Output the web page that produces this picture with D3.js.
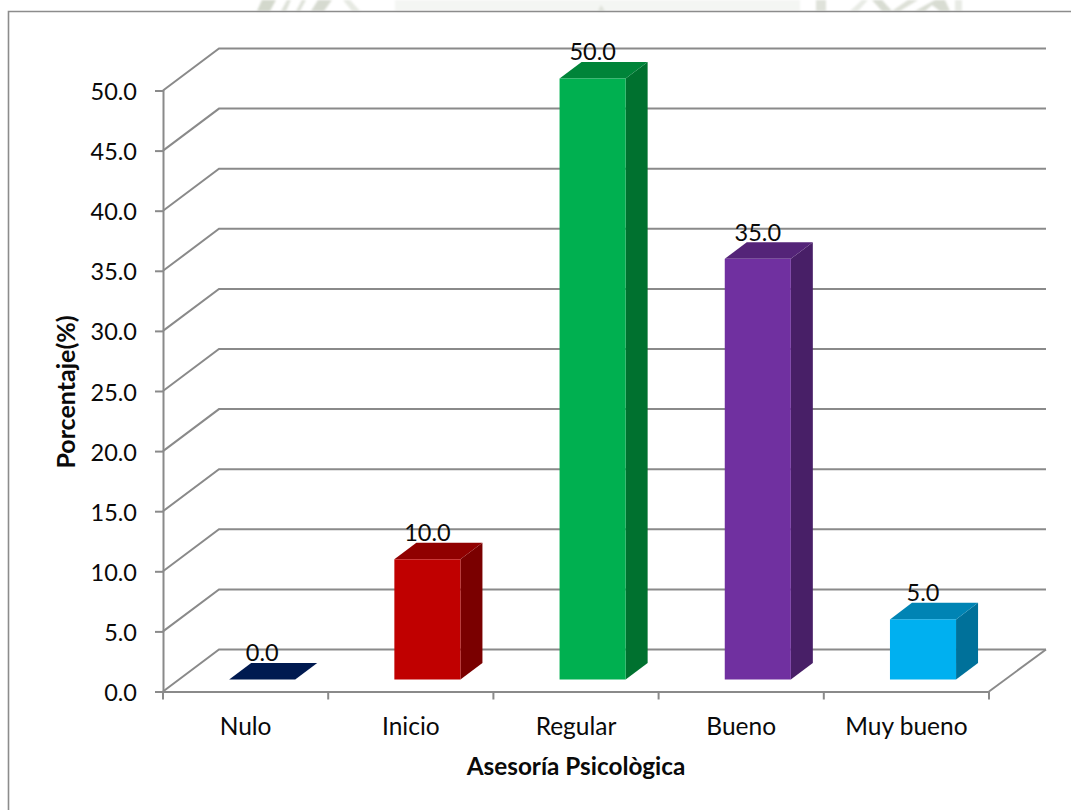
<!DOCTYPE html>
<html><head><meta charset="utf-8">
<script src="https://cdnjs.cloudflare.com/ajax/libs/d3/7.8.5/d3.min.js"></script>
<style>html,body{margin:0;padding:0;background:#fff}svg{display:block}text{font-family:Lato,"Open Sans",sans-serif;fill:#0a0a0a}</style>
</head><body><svg id="c" width="1071" height="810"></svg>
<script>
const categories = ["Nulo","Inicio","Regular","Bueno","Muy bueno"];
const values = [0,10,50,35,5];
const yTicks = [0,5,10,15,20,25,30,35,40,45,50];
const frontColors = ["#002060","#C00000","#00B050","#7030A0","#00B0F0"];
const topColors = ["#001A50","#900000","#008439","#542478","#0084B4"];
const sideColors = ["#001438","#7A0000","#00712F","#481F67","#00719A"];
const xTitle = "Asesoría Psicològica";
const yTitle = "Porcentaje(%)";

const svg = d3.select("#c");
const grid = "#8a8a8a";
const W = {x0:163, x1:989, y0:691.5, y1:90.5, dx:56, dy:-42};
const x = d3.scaleBand().domain(categories).range([W.x0,W.x1]);
const y = d3.scaleLinear().domain([0,50]).range([W.y0,W.y1]);
const barW = x.step()*0.4, barInset = x.step()*0.3+16.6, barOY = -12, bdx = 22, bdy = -16.6;

// faint watermark remains above the chart frame
const wm = svg.append("g").style("filter","blur(1px)");
wm.append("rect").attr("x",395).attr("y",0).attr("width",405).attr("height",11).attr("fill","#f4f6f3");
[["M257 11L262 0H276L270 11Z","#d3d8cc"],["M281 11L287 0H291L286 11Z","#dde1d8"],["M296 11L302 0H306L300 11Z","#dde1d8"],
 ["M311 11L318 0H332L324 11Z","#d6dad0"],["M343 0H350L360 11H352Z","#e6e9e2"],
 ["M598 11L601 5L605 11Z","#dfe2da"],["M816 0H826V11H816Z","#dfe2da"],["M850 11L862 0H868L858 11Z","#e8ebe5"],
 ["M872 0H882L892 11H882Z","#d8dcd2"],["M892 11L908 0H918L900 11Z","#dde0d7"],["M915 11L935 0H945L950 11H940L932 5L925 11Z","#d8dcd2"],["M955 0H962V11H955Z","#e8ebe5"]]
 .forEach(d=>wm.append("path").attr("d",d[0]).attr("fill",d[1]));

// frame
svg.append("path").attr("d","M8.5 810V11.5H1071").attr("fill","none").attr("stroke","#8c8c8c").attr("stroke-width",1.6);

// walls and floor
const g = svg.append("g").attr("fill","none").attr("stroke",grid).attr("stroke-width",2);
g.selectAll(".h").data(yTicks).join("path")
 .attr("d",t=>`M${W.x0} ${y(t)}L${W.x0+W.dx} ${y(t)+W.dy}H${W.x1+W.dx+1}`);
g.append("path").attr("d",`M${W.x1} ${y(0)}L${W.x1+W.dx+1} ${y(0)+W.dy}`);

// axes
const ay = svg.append("g").attr("transform",`translate(${W.x0},0)`)
 .call(d3.axisLeft(y).tickValues(yTicks).tickFormat(d3.format(".1f")).tickSize(8).tickPadding(18));
const ax = svg.append("g").attr("transform",`translate(0,${W.y0})`)
 .call(d3.axisBottom(x).tickSize(0).tickPadding(28));
[ay,ax].forEach(a=>{
 a.selectAll("path.domain").attr("stroke",grid).attr("stroke-width",2);
 a.selectAll("line").attr("stroke",grid).attr("stroke-width",2);
 a.selectAll("text").attr("font-size",23.5).style("font-family","Lato,sans-serif").attr("fill","#0a0a0a");
});
ay.selectAll("text").attr("dy",null).attr("y",9);
ax.selectAll(".tick text").attr("dy",null).attr("y",43).attr("font-size",24.5);
ax.selectAll(".bound").data(d3.range(categories.length+1)).join("line")
 .attr("x1",i=>W.x0+i*x.step()).attr("x2",i=>W.x0+i*x.step()).attr("y1",0).attr("y2",8)
 .attr("stroke",grid).attr("stroke-width",2);

// bars
const rows = categories.map((c,i)=>({c,i,v:values[i]}));
svg.append("g").selectAll("g").data(rows).join("g").each(function(d){
  const s=d3.select(this), l=x(d.c)+barInset, r=l+barW, t=y(d.v)+barOY, bt=y(0)+barOY;
  s.append("path").attr("fill",sideColors[d.i]).attr("d",`M${r} ${t}L${r+bdx} ${t+bdy}V${bt+bdy}L${r} ${bt}Z`);
  s.append("path").attr("fill",topColors[d.i]).attr("d",`M${l} ${t}L${l+bdx} ${t+bdy}H${r+bdx}L${r} ${t}Z`);
  if(d.v>0) s.append("rect").attr("x",l).attr("y",t).attr("width",barW).attr("height",bt-t).attr("fill",frontColors[d.i]);
  s.append("text").attr("x",l+barW/2).attr("y",t+bdy-1.5).attr("text-anchor","middle").attr("font-size",23.5).text(d3.format(".1f")(d.v));
});

// titles
svg.append("text").attr("x",576).attr("y",775).attr("text-anchor","middle").attr("font-weight",700).attr("font-size",24.3).text(xTitle);
svg.append("text").attr("transform","translate(75,392) rotate(-90)").attr("text-anchor","middle").attr("font-weight",700).attr("font-size",25).text(yTitle);
</script></body></html>
